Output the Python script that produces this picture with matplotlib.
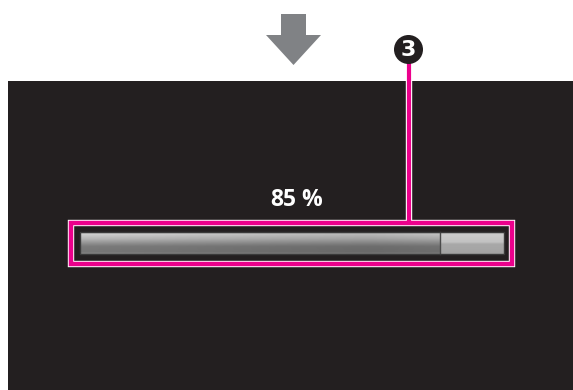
import numpy as np
import matplotlib
matplotlib.use("Agg")
from matplotlib import pyplot as plt
from matplotlib.patches import Rectangle, Polygon, Circle

# progress value shown on the screen
progress = [85]
label_text = "85 %"
callout = "3"

W, H = 573, 390
fig = plt.figure(figsize=(W / 100, H / 100), dpi=100)
ax = fig.add_axes([0, 0, 1, 1])
ax.set_xlim(0, W)
ax.set_ylim(H, 0)
ax.axis("off")

# dark screen panel
ax.add_patch(Rectangle((8, 81), W - 8, H - 81, fc="#231f20", ec="none", zorder=1))

# grey arrow at the top
ax.add_patch(Polygon([(281, 14), (306, 14), (306, 35), (321, 35), (293.5, 65),
                      (266, 35), (281, 35)], closed=True, fc="#808285", ec="none", zorder=2))

# progress bar
x0, x1 = 80, 504
y0, y1 = 232, 254
xf = x0 + (x1 - x0) * progress[0] / 100.0

ys = np.linspace(0, 1, 60)
prof = np.interp(ys, [0, 0.08, 0.3, 0.5, 0.65, 0.9, 1.0], [0.62, 0.78, 0.68, 0.55, 0.46, 0.44, 0.5])
xs = np.linspace(0, 1, 200)
hmod = np.interp(xs, [0, 0.2, 0.55, 0.8, 1.0], [1.05, 1.02, 0.96, 0.93, 0.97])
grad = np.clip(prof[:, None] * hmod[None, :], 0, 1)
ax.imshow(grad, cmap="gray", vmin=0, vmax=1, extent=(x0, xf, y1, y0),
          aspect="auto", interpolation="bilinear", zorder=3)

prof2 = np.interp(ys, [0, 0.1, 0.45, 0.55, 1.0], [0.72, 0.8, 0.76, 0.66, 0.64])
ax.imshow(prof2[:, None] * np.ones((1, 10)), cmap="gray", vmin=0, vmax=1,
          extent=(xf, x1, y1, y0), aspect="auto", interpolation="bilinear", zorder=3)
ax.plot([xf, xf], [y0, y1], color="#4a4a4a", lw=1, zorder=4)
ax.add_patch(Rectangle((x0, y0), x1 - x0, y1 - y0, fc="none", ec="#3a3a3a", lw=1, zorder=4))

# percentage label, digits and sign placed apart like on the screen
ax.text(283, 200, label_text.split(" ")[0], color="white", fontsize=16.5, fontweight="bold",
        family="Open Sans", ha="center", va="center", zorder=5)
ax.text(312, 200, label_text.split(" ")[1], color="white", fontsize=16.5, fontweight="bold",
        family="Open Sans", ha="center", va="center", zorder=5)

# pink callout frame with white edges
pink = "#ec008c"
ax.add_patch(Rectangle((71, 223.3), 441, 40.7, fc="none", ec="white", lw=4.6, zorder=6))
ax.add_patch(Rectangle((71, 223.3), 441, 40.7, fc="none", ec=pink, lw=3.2, zorder=7))
ax.plot([408.8, 408.8], [62, 222], color="white", lw=4.6, zorder=6, solid_capstyle="butt")
ax.plot([408.8, 408.8], [62, 223], color=pink, lw=3.0, zorder=7, solid_capstyle="butt")

# numbered circle
ax.add_patch(Circle((408.5, 49.5), 14.5, fc="#231f20", ec="none", zorder=8))
ax.text(408.5, 50.5, callout, color="white", fontsize=16, fontweight="bold",
        family="DejaVu Sans", ha="center", va="center", zorder=9)

fig.savefig("out.png", dpi=100)
